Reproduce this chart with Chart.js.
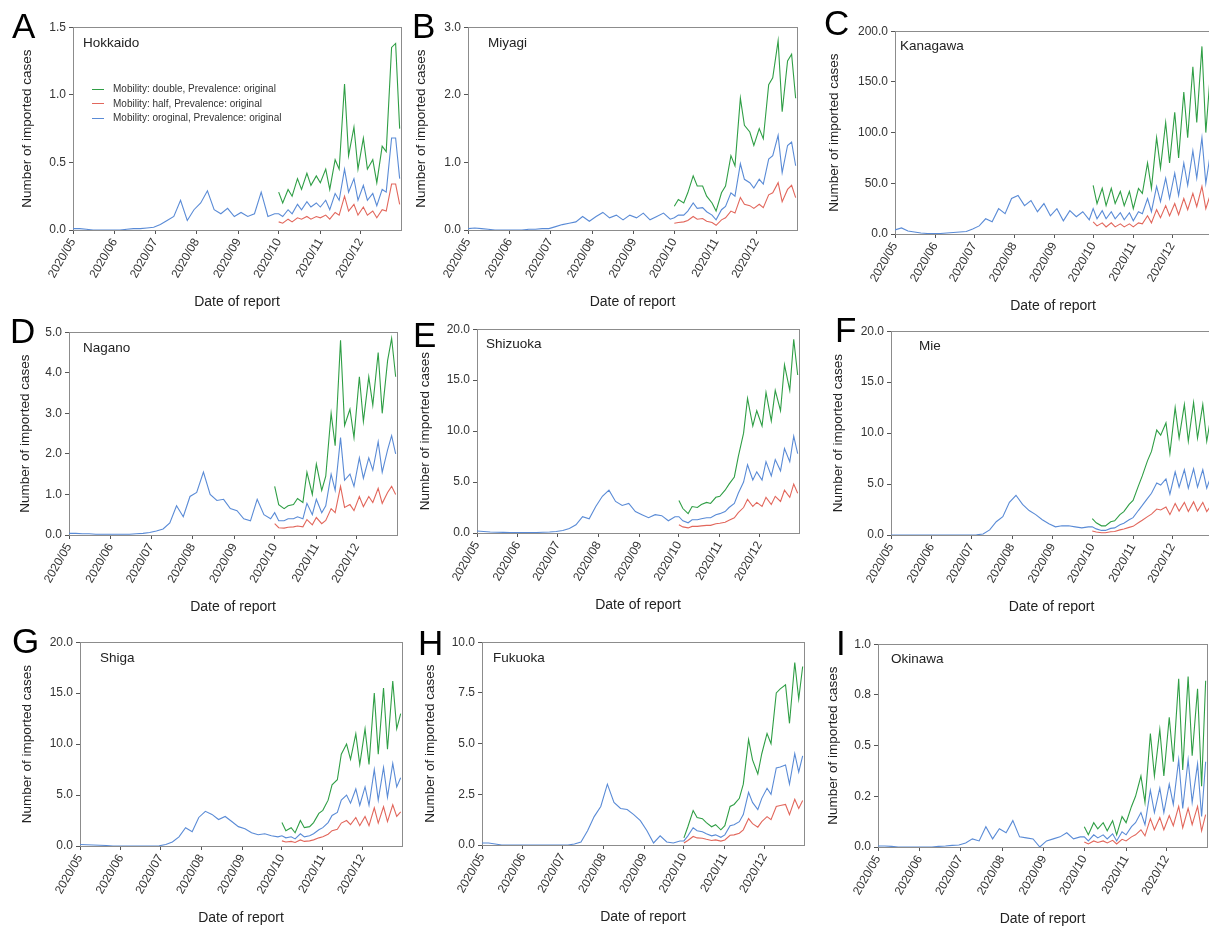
<!DOCTYPE html>
<html>
<head>
<meta charset="utf-8">
<script src="https://cdn.jsdelivr.net/npm/chart.js@4.4.1/dist/chart.umd.min.js"></script>
<style>
  body { margin: 0; width: 1209px; height: 927px; overflow: hidden; background: #fff; position: relative;
         font-family: "Liberation Sans", Arial, sans-serif; }
  canvas { position: absolute; }
  .letter { position: absolute; font-size: 35px; line-height: 35px; color: #000; }
  .name { position: absolute; font-size: 13.5px; line-height: 13.5px; color: #222; white-space: nowrap; }
  .legend { position: absolute; left: 92px; top: 82px; font-size: 10px; color: #333; }
  .legend div { height: 14.5px; line-height: 14.5px; white-space: nowrap; }
  .legend span { display: inline-block; width: 12px; height: 0; border-top: 1px solid; vertical-align: middle; margin-right: 9px; }
</style>
</head>
<body>
<script>
// day index: 0 = 2020/05/01
const monthTicks = [0, 31, 61, 92, 123, 153, 184, 214];
const monthLabels = ['2020/05', '2020/06', '2020/07', '2020/08', '2020/09', '2020/10', '2020/11', '2020/12'];
const daysEarly = [0, 5, 10, 15, 20, 25, 30, 35, 40, 45, 50, 55, 60, 65, 70, 75, 80, 85, 90, 95, 100,
                   105, 110, 115, 120, 125, 130, 135, 140, 145, 150];
const daysLate = [153, 156, 160, 163, 167, 170, 174, 177, 181, 184, 188, 191, 195, 198, 202, 205, 209,
                  212, 216, 219, 223, 226, 230, 233, 237, 240, 243];
const allDays = daysEarly.concat(daysLate);

const seriesLabels = ['Mobility: double, Prevalence: original', 'Mobility: half, Prevalence: original',
                      'Mobility: oroginal, Prevalence: original'];

// Hokkaido
const hokkaidoBlue = [0.01, 0.01, 0.005, 0, 0, 0, 0, 0, 0.005, 0.01, 0.01, 0.015, 0.02, 0.04, 0.07, 0.10, 0.22, 0.07, 0.15, 0.20, 0.29, 0.15, 0.12, 0.16, 0.10, 0.13, 0.10, 0.12, 0.28, 0.10, 0.12,
  0.12, 0.10, 0.15, 0.12, 0.19, 0.15, 0.21, 0.17, 0.20, 0.17, 0.22, 0.15, 0.27, 0.22, 0.45, 0.28, 0.38, 0.22, 0.33, 0.22, 0.27, 0.18, 0.30, 0.28, 0.68, 0.68, 0.38];
const hokkaidoGreen = [0.28, 0.20, 0.30, 0.25, 0.38, 0.30, 0.42, 0.33, 0.40, 0.35, 0.45, 0.30, 0.52, 0.45, 1.08, 0.55, 0.76, 0.45, 0.68, 0.45, 0.52, 0.35, 0.62, 0.58, 1.35, 1.38, 0.75];
const hokkaidoRed = [0.06, 0.05, 0.08, 0.06, 0.09, 0.08, 0.10, 0.08, 0.10, 0.09, 0.11, 0.08, 0.13, 0.11, 0.25, 0.14, 0.19, 0.11, 0.17, 0.11, 0.14, 0.09, 0.15, 0.14, 0.34, 0.34, 0.19];

// Miyagi
const miyagiBlue = [0.02, 0.03, 0.02, 0.01, 0, 0, 0, 0, 0, 0.01, 0.01, 0.02, 0.02, 0.05, 0.08, 0.10, 0.12, 0.20, 0.13, 0.20, 0.26, 0.18, 0.22, 0.15, 0.22, 0.18, 0.25, 0.15, 0.20, 0.25, 0.16,
  0.18, 0.22, 0.22, 0.28, 0.40, 0.32, 0.33, 0.27, 0.22, 0.15, 0.30, 0.35, 0.55, 0.50, 0.98, 0.75, 0.70, 0.62, 0.75, 0.68, 1.05, 1.10, 1.40, 0.85, 1.25, 1.30, 0.95];
const miyagiGreen = [0.35, 0.45, 0.40, 0.55, 0.80, 0.65, 0.65, 0.50, 0.40, 0.28, 0.55, 0.65, 1.10, 0.95, 1.95, 1.55, 1.45, 1.25, 1.50, 1.35, 2.15, 2.25, 2.80, 1.75, 2.50, 2.60, 1.95];
const miyagiRed = [0.10, 0.11, 0.12, 0.14, 0.20, 0.16, 0.17, 0.13, 0.11, 0.07, 0.15, 0.18, 0.28, 0.25, 0.48, 0.38, 0.36, 0.32, 0.38, 0.33, 0.52, 0.55, 0.70, 0.42, 0.60, 0.66, 0.48];

// Kanagawa
const kanagawaBlue = [4, 6, 3, 2, 1, 0.5, 0.5, 0.5, 1, 1.5, 2, 2.5, 5, 8, 15, 12, 25, 20, 35, 38, 28, 33, 22, 30, 18, 25, 13, 23, 17, 22, 14,
  25, 15, 23, 15, 22, 15, 21, 14, 21, 13, 22, 20, 35, 22, 47, 32, 55, 35, 60, 38, 70, 48, 82, 55, 95, 50, 75];
const kanagawaGreen = [48, 30, 45, 28, 45, 30, 42, 28, 42, 25, 45, 40, 70, 45, 95, 65, 110, 70, 120, 75, 140, 95, 165, 110, 185, 100, 150];
const kanagawaRed = [12, 8, 11, 7, 11, 7, 10, 7, 10, 7, 11, 10, 18, 11, 24, 16, 28, 18, 30, 19, 35, 24, 40, 27, 47, 25, 37];

// Nagano
const naganoBlue = [0.04, 0.04, 0.03, 0.03, 0.02, 0.02, 0.02, 0.02, 0.02, 0.02, 0.03, 0.04, 0.06, 0.10, 0.15, 0.30, 0.72, 0.45, 0.95, 1.05, 1.55, 1.0, 0.85, 0.88, 0.65, 0.60, 0.40, 0.35, 0.88, 0.50, 0.40,
  0.55, 0.35, 0.35, 0.40, 0.40, 0.45, 0.40, 0.78, 0.50, 0.88, 0.55, 0.72, 1.5, 1.1, 2.4, 1.35, 1.5, 1.2, 1.9, 1.4, 1.9, 1.6, 2.3, 1.55, 2.1, 2.45, 2.0];
const naganoGreen = [1.2, 0.75, 0.65, 0.72, 0.75, 0.90, 0.80, 1.55, 1.0, 1.75, 1.1, 1.45, 3.0, 2.2, 4.8, 2.7, 3.1, 2.4, 3.9, 2.8, 3.9, 3.2, 4.5, 3.0, 4.3, 4.85, 3.9];
const naganoRed = [0.28, 0.18, 0.17, 0.19, 0.20, 0.22, 0.20, 0.38, 0.25, 0.43, 0.28, 0.36, 0.65, 0.55, 1.2, 0.68, 0.75, 0.60, 0.95, 0.70, 0.95, 0.80, 1.15, 0.78, 1.05, 1.2, 1.0];

// Shizuoka
const shizuokaBlue = [0.2, 0.15, 0.1, 0.08, 0.06, 0.05, 0.05, 0.05, 0.05, 0.05, 0.07, 0.1, 0.15, 0.25, 0.45, 0.8, 1.6, 1.4, 2.6, 3.6, 4.2, 3.1, 2.7, 2.9, 2.1, 1.8, 1.5, 1.8, 1.7, 1.2, 1.6,
  1.6, 1.2, 1.0, 1.3, 1.3, 1.4, 1.5, 1.5, 1.8, 1.9, 2.1, 2.5, 2.9, 3.9, 5.0, 6.7, 5.2, 6.0, 5.2, 7.0, 5.6, 7.2, 6.1, 8.3, 7.0, 9.5, 7.8];
const shizuokaGreen = [3.2, 2.4, 1.9, 2.6, 2.5, 2.8, 3.0, 2.9, 3.5, 3.6, 4.2, 4.8, 5.5, 7.5, 9.8, 13.2, 10.5, 12.0, 10.5, 13.8, 11.0, 14.0, 12.0, 16.5, 14.0, 19.0, 15.5];
const shizuokaRed = [0.8, 0.6, 0.5, 0.65, 0.65, 0.7, 0.75, 0.75, 0.9, 0.95, 1.05, 1.25, 1.5, 2.0, 2.5, 3.3, 2.6, 3.0, 2.6, 3.5, 2.8, 3.6, 3.1, 4.2, 3.5, 4.8, 3.9];

// Mie
const mieBlue = [0, 0, 0, 0, 0, 0, 0, 0, 0, 0, 0, 0, 0, 0.02, 0.1, 0.5, 1.3, 1.8, 3.2, 3.9, 3.0, 2.4, 2.0, 1.5, 1.1, 0.8, 0.9, 0.9, 0.8, 0.7, 0.8,
  0.8, 0.6, 0.45, 0.45, 0.65, 0.7, 1.0, 1.15, 1.5, 1.7, 2.4, 2.9, 3.6, 4.1, 5.1, 4.9, 5.5, 4.0, 6.2, 4.7, 6.4, 4.6, 6.5, 4.7, 6.4, 4.6, 5.7];
const mieGreen = [1.6, 1.2, 0.9, 0.9, 1.3, 1.4, 2.0, 2.3, 3.0, 3.4, 4.8, 5.8, 7.3, 8.2, 10.3, 9.8, 11.0, 8.0, 12.5, 9.5, 12.8, 9.2, 13.0, 9.5, 12.8, 9.2, 11.5];
const mieRed = [0.4, 0.3, 0.22, 0.22, 0.32, 0.35, 0.5, 0.58, 0.75, 0.85, 1.2, 1.45, 1.8, 2.05, 2.55, 2.45, 2.75, 2.0, 3.1, 2.35, 3.2, 2.3, 3.25, 2.35, 3.2, 2.3, 2.85];

// Shiga
const shigaBlue = [0.15, 0.12, 0.1, 0.08, 0.05, 0, 0, 0, 0, 0, 0, 0, 0.02, 0.15, 0.4, 0.9, 1.8, 1.4, 2.8, 3.4, 3.1, 2.6, 2.9, 2.4, 1.9, 1.7, 1.3, 1.1, 1.2, 1.0, 0.9,
  1.0, 0.8, 0.9, 0.7, 1.2, 0.9, 1.0, 1.2, 1.6, 1.8, 2.3, 3.0, 3.3, 4.5, 5.0, 4.2, 5.6, 4.0, 5.8, 4.0, 7.5, 4.5, 7.7, 4.8, 8.1, 5.8, 6.7];
const shigaGreen = [2.3, 1.5, 1.8, 1.3, 2.5, 1.8, 1.9, 2.3, 3.2, 3.5, 4.5, 6.0, 6.5, 9.0, 10.0, 8.5, 11.0, 8.0, 11.5, 8.0, 15.0, 9.0, 15.5, 9.5, 16.2, 11.5, 13.0];
const shigaRed = [0.5, 0.4, 0.45, 0.35, 0.6, 0.45, 0.5, 0.6, 0.8, 0.9, 1.15, 1.5, 1.65, 2.25, 2.5, 2.1, 2.8, 2.0, 2.9, 2.0, 3.75, 2.25, 3.85, 2.4, 4.05, 2.9, 3.35];

// Fukuoka
const fukuokaBlue = [0.1, 0.1, 0.05, 0, 0, 0, 0, 0, 0, 0, 0, 0, 0, 0, 0.05, 0.15, 0.7, 1.4, 1.9, 3.0, 2.1, 1.8, 1.75, 1.5, 1.2, 0.7, 0.1, 0.45, 0.15, 0.1, 0.2,
  0.2, 0.45, 0.85, 0.7, 0.65, 0.55, 0.45, 0.5, 0.38, 0.5, 0.95, 1.0, 1.15, 1.5, 2.6, 2.1, 1.75, 2.3, 2.8, 2.5, 3.8, 3.85, 3.95, 3.0, 4.5, 3.6, 4.4];
const fukuokaGreen = [0.35, 0.9, 1.7, 1.35, 1.3, 1.1, 0.9, 1.0, 0.75, 0.95, 1.9, 2.0, 2.3, 3.0, 5.2, 4.2, 3.5, 4.5, 5.5, 5.0, 7.5, 7.7, 7.9, 6.0, 9.0, 7.2, 8.8];
const fukuokaRed = [0.1, 0.22, 0.42, 0.35, 0.33, 0.28, 0.22, 0.25, 0.19, 0.25, 0.48, 0.5, 0.58, 0.75, 1.3, 1.05, 0.88, 1.15, 1.4, 1.25, 1.9, 1.95, 2.0, 1.5, 2.25, 1.8, 2.2];

// Okinawa
const okinawaBlue = [0.005, 0.005, 0.003, 0, 0, 0, 0, 0, 0, 0.003, 0.005, 0.008, 0.01, 0.02, 0.04, 0.03, 0.1, 0.04, 0.09, 0.07, 0.13, 0.05, 0.045, 0.04, 0.0, 0.03, 0.04, 0.05, 0.07, 0.04, 0.05,
  0.05, 0.03, 0.06, 0.045, 0.06, 0.04, 0.065, 0.03, 0.075, 0.06, 0.1, 0.12, 0.17, 0.11, 0.28, 0.17, 0.29, 0.17, 0.31, 0.21, 0.43, 0.19, 0.43, 0.22, 0.41, 0.15, 0.42];
const okinawaGreen = [0.1, 0.06, 0.12, 0.09, 0.12, 0.08, 0.13, 0.06, 0.15, 0.12, 0.2, 0.25, 0.35, 0.22, 0.56, 0.35, 0.58, 0.35, 0.64, 0.42, 0.83, 0.38, 0.84, 0.45, 0.78, 0.30, 0.82];
const okinawaRed = [0.025, 0.015, 0.03, 0.022, 0.03, 0.02, 0.033, 0.015, 0.038, 0.03, 0.05, 0.06, 0.085, 0.055, 0.14, 0.085, 0.145, 0.085, 0.155, 0.105, 0.2, 0.095, 0.19, 0.11, 0.2, 0.08, 0.16];

const panels = [
  { letter: 'A', name: 'Hokkaido', blue: hokkaidoBlue, green: hokkaidoGreen, red: hokkaidoRed, yTicks: [0, 0.5, 1.0, 1.5] },
  { letter: 'B', name: 'Miyagi', blue: miyagiBlue, green: miyagiGreen, red: miyagiRed, yTicks: [0, 1, 2, 3] },
  { letter: 'C', name: 'Kanagawa', blue: kanagawaBlue, green: kanagawaGreen, red: kanagawaRed, yTicks: [0, 50, 100, 150, 200] },
  { letter: 'D', name: 'Nagano', blue: naganoBlue, green: naganoGreen, red: naganoRed, yTicks: [0, 1, 2, 3, 4, 5] },
  { letter: 'E', name: 'Shizuoka', blue: shizuokaBlue, green: shizuokaGreen, red: shizuokaRed, yTicks: [0, 5, 10, 15, 20] },
  { letter: 'F', name: 'Mie', blue: mieBlue, green: mieGreen, red: mieRed, yTicks: [0, 5, 10, 15, 20] },
  { letter: 'G', name: 'Shiga', blue: shigaBlue, green: shigaGreen, red: shigaRed, yTicks: [0, 5, 10, 15, 20] },
  { letter: 'H', name: 'Fukuoka', blue: fukuokaBlue, green: fukuokaGreen, red: fukuokaRed, yTicks: [0, 2.5, 5, 7.5, 10] },
  { letter: 'I', name: 'Okinawa', blue: okinawaBlue, green: okinawaGreen, red: okinawaRed, yTicks: [0, 0.25, 0.5, 0.75, 1.0],
    yLabels: ['0.0', '0.2', '0.5', '0.8', '1.0'] }
];

// plot rectangles and text placement (page pixels)
const boxes = [
  { left: 73, top: 27, right: 401, bottom: 230, titleX: 27, letterX: 12, letterY: 8, nameX: 83, nameY: 36 },
  { left: 468, top: 27, right: 797, bottom: 230, titleX: 421, letterX: 412, letterY: 8, nameX: 488, nameY: 36 },
  { left: 895, top: 31, right: 1211, bottom: 234, titleX: 834, letterX: 824, letterY: 5, nameX: 900, nameY: 39 },
  { left: 69, top: 332, right: 397, bottom: 535, titleX: 25, letterX: 10, letterY: 313, nameX: 83, nameY: 341 },
  { left: 477, top: 329, right: 799, bottom: 533, titleX: 425, letterX: 413, letterY: 317, nameX: 486, nameY: 337 },
  { left: 891, top: 331, right: 1212, bottom: 535, titleX: 838, letterX: 835, letterY: 312, nameX: 919, nameY: 339 },
  { left: 80, top: 642, right: 402, bottom: 846, titleX: 27, letterX: 12, letterY: 623, nameX: 100, nameY: 651 },
  { left: 482, top: 642, right: 804, bottom: 845, titleX: 430, letterX: 418, letterY: 625, nameX: 493, nameY: 651 },
  { left: 878, top: 644, right: 1207, bottom: 847, titleX: 833, letterX: 836, letterY: 625, nameX: 891, nameY: 652 }
];

const colGreen = '#2f9e45', colRed = '#e2675c', colBlue = '#5a8bd6';
const axisColor = '#555', frameColor = '#8c8c8c';
const fontFam = '"Liberation Sans", Arial, sans-serif';

function pairs(xs, ys) { return ys.map((y, i) => ({ x: xs[i], y: y })); }

const framePlugin = {
  id: 'frame',
  beforeDatasetsDraw(chart) {
    const a = chart.chartArea, c = chart.ctx;
    c.save();
    c.strokeStyle = frameColor;
    c.lineWidth = 1;
    c.strokeRect(Math.round(a.left) + 0.5, Math.round(a.top) + 0.5, Math.round(a.right - a.left), Math.round(a.bottom - a.top));
    c.restore();
  }
};

function addText(cls, text, x, y) {
  const d = document.createElement('div');
  d.className = cls; d.textContent = text;
  d.style.left = x + 'px'; d.style.top = y + 'px';
  document.body.appendChild(d);
}

panels.forEach((p, k) => {
  const b = boxes[k];
  const cLeft = b.titleX - 8, cTop = b.top - 10;
  const cv = document.createElement('canvas');
  cv.width = b.right + 8 - cLeft;
  cv.height = b.bottom + 81 - cTop;
  cv.style.left = cLeft + 'px'; cv.style.top = cTop + 'px';
  document.body.appendChild(cv);
  const yLabels = p.yLabels || p.yTicks.map(v => v.toFixed(1));

  new Chart(cv.getContext('2d'), {
    type: 'line',
    data: {
      datasets: [
        { label: seriesLabels[0], data: pairs(daysLate, p.green), borderColor: colGreen },
        { label: seriesLabels[1], data: pairs(daysLate, p.red), borderColor: colRed },
        { label: seriesLabels[2], data: pairs(allDays, p.blue), borderColor: colBlue }
      ]
    },
    options: {
      responsive: false,
      animation: false,
      layout: { padding: { top: 10, right: 8, left: 0, bottom: 0 } },
      elements: { point: { radius: 0 }, line: { borderWidth: 1.1, tension: 0 } },
      plugins: { legend: { display: false }, tooltip: { enabled: false } },
      scales: {
        x: {
          type: 'linear', min: 0, max: 244,
          afterBuildTicks: s => { s.ticks = monthTicks.map(v => ({ value: v })); },
          afterFit: s => { s.height = 81; },
          ticks: { autoSkip: false, minRotation: 60, maxRotation: 60, padding: 2, color: '#333',
                   font: { size: 12, family: fontFam }, callback: (v, i) => monthLabels[i] },
          grid: { drawOnChartArea: false, drawTicks: true, tickLength: 4, color: axisColor },
          border: { color: axisColor },
          title: { display: true, text: 'Date of report', color: '#222', padding: 0,
                   font: { size: 14, family: fontFam } }
        },
        y: {
          min: 0, max: p.yTicks[p.yTicks.length - 1],
          afterBuildTicks: s => { s.ticks = p.yTicks.map(v => ({ value: v })); },
          afterFit: s => { s.width = b.left - cLeft; },
          ticks: { padding: 3, color: '#333', font: { size: 12, family: fontFam },
                   callback: (v, i) => yLabels[i] },
          grid: { drawOnChartArea: false, drawTicks: true, tickLength: 4, color: axisColor },
          border: { color: axisColor },
          title: { display: true, text: 'Number of imported cases', color: '#222', padding: 0,
                   font: { size: 13.5, family: fontFam } }
        }
      }
    },
    plugins: [framePlugin]
  });

  addText('letter', p.letter, b.letterX, b.letterY);
  addText('name', p.name, b.nameX, b.nameY);
});

// legend inside panel A
const lg = document.createElement('div');
lg.className = 'legend';
[colGreen, colRed, colBlue].forEach((c, i) => {
  const row = document.createElement('div');
  const sw = document.createElement('span');
  sw.style.borderTopColor = c;
  row.appendChild(sw);
  row.appendChild(document.createTextNode(seriesLabels[i]));
  lg.appendChild(row);
});
document.body.appendChild(lg);
</script>
</body>
</html>
